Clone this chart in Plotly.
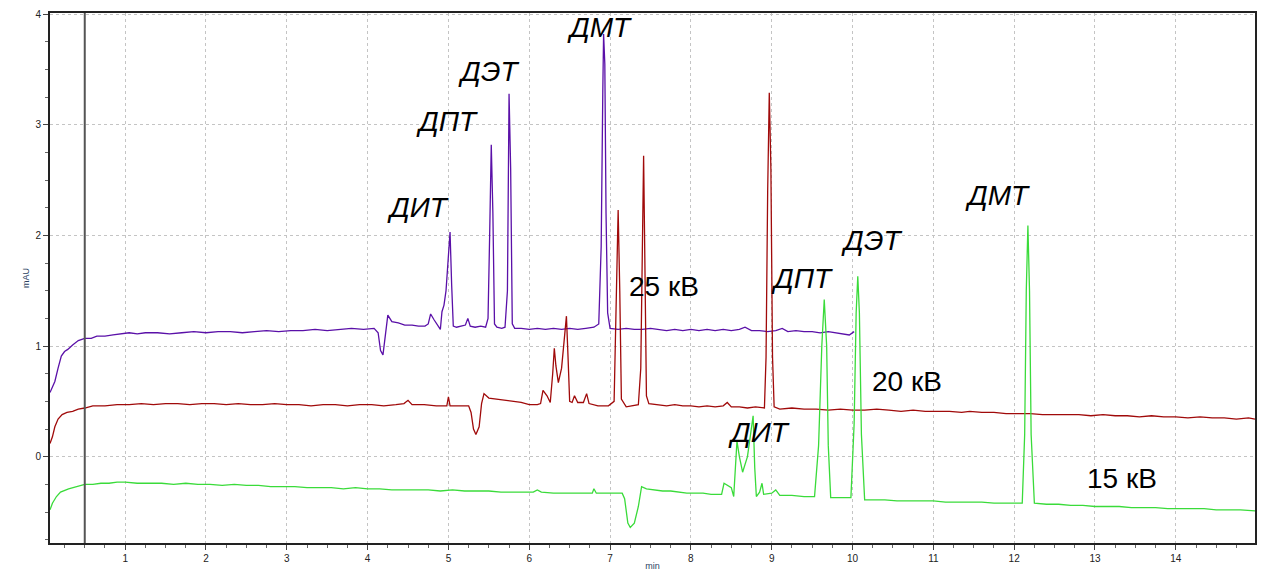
import plotly.graph_objects as go

# Electropherograms at three separation voltages: (time, min ; absorbance, mAU)
trace_25kv = [
    (0.07, 0.58), (0.10, 0.63), (0.13, 0.68), (0.17, 0.80), (0.21, 0.91), (0.25, 0.95),
    (0.29, 0.97), (0.35, 1.01), (0.42, 1.05), (0.50, 1.07), (0.58, 1.07), (0.65, 1.09),
    (0.75, 1.09), (0.85, 1.10), (0.95, 1.11), (1.05, 1.12), (1.15, 1.11), (1.25, 1.12),
    (1.40, 1.12), (1.55, 1.11), (1.70, 1.12), (1.85, 1.13), (2.00, 1.12), (2.15, 1.13),
    (2.30, 1.13), (2.45, 1.12), (2.60, 1.13), (2.75, 1.14), (2.90, 1.13), (3.05, 1.14),
    (3.20, 1.14), (3.35, 1.15), (3.50, 1.14), (3.65, 1.15), (3.80, 1.16), (3.95, 1.15),
    (4.08, 1.16), (4.13, 1.12), (4.16, 0.96), (4.19, 0.92), (4.22, 1.10), (4.25, 1.28),
    (4.30, 1.22), (4.38, 1.21), (4.46, 1.19), (4.55, 1.19), (4.63, 1.18), (4.71, 1.18),
    (4.75, 1.20), (4.78, 1.29), (4.82, 1.24), (4.86, 1.19), (4.90, 1.15), (4.92, 1.31),
    (4.945, 1.37), (4.97, 1.50), (4.995, 1.78), (5.02, 2.03), (5.04, 1.55), (5.06, 1.18),
    (5.10, 1.17), (5.16, 1.18), (5.21, 1.19), (5.24, 1.25), (5.27, 1.18), (5.33, 1.17),
    (5.40, 1.18), (5.46, 1.17), (5.49, 1.25), (5.51, 2.00), (5.53, 2.82), (5.55, 2.20),
    (5.57, 1.20), (5.60, 1.17), (5.66, 1.16), (5.70, 1.17), (5.73, 1.50), (5.75, 3.28),
    (5.77, 2.60), (5.79, 1.20), (5.82, 1.16), (5.90, 1.16), (6.00, 1.15), (6.10, 1.16),
    (6.20, 1.15), (6.30, 1.16), (6.40, 1.15), (6.50, 1.16), (6.60, 1.15), (6.70, 1.16),
    (6.80, 1.17), (6.86, 1.20), (6.89, 1.90), (6.91, 3.30), (6.92, 3.82), (6.935, 3.55),
    (6.95, 2.20), (6.97, 1.30), (7.00, 1.16), (7.10, 1.15), (7.20, 1.16), (7.30, 1.15),
    (7.40, 1.15), (7.50, 1.16), (7.60, 1.15), (7.70, 1.14), (7.80, 1.15), (7.90, 1.14),
    (8.00, 1.15), (8.10, 1.14), (8.20, 1.15), (8.30, 1.14), (8.40, 1.15), (8.50, 1.14),
    (8.60, 1.15), (8.67, 1.17), (8.75, 1.14), (8.85, 1.14), (8.95, 1.13), (9.05, 1.14),
    (9.13, 1.16), (9.20, 1.13), (9.30, 1.14), (9.40, 1.13), (9.50, 1.13), (9.60, 1.12),
    (9.70, 1.13), (9.80, 1.12), (9.90, 1.11), (9.96, 1.10), (10.02, 1.13),
]

trace_20kv = [
    (0.07, 0.12), (0.10, 0.18), (0.13, 0.27), (0.17, 0.34), (0.22, 0.38), (0.28, 0.40),
    (0.35, 0.41), (0.42, 0.43), (0.50, 0.44), (0.60, 0.46), (0.75, 0.46), (0.90, 0.47),
    (1.05, 0.47), (1.20, 0.48), (1.35, 0.47), (1.50, 0.48), (1.65, 0.48), (1.80, 0.47),
    (1.95, 0.48), (2.10, 0.48), (2.25, 0.47), (2.40, 0.48), (2.55, 0.47), (2.70, 0.47),
    (2.85, 0.48), (3.00, 0.47), (3.15, 0.47), (3.30, 0.46), (3.45, 0.47), (3.60, 0.47),
    (3.75, 0.46), (3.90, 0.47), (4.05, 0.47), (4.20, 0.46), (4.35, 0.47), (4.45, 0.48),
    (4.50, 0.51), (4.55, 0.47), (4.70, 0.47), (4.85, 0.46), (4.98, 0.46), (5.00, 0.54),
    (5.02, 0.46), (5.15, 0.46), (5.25, 0.46), (5.28, 0.40), (5.31, 0.25), (5.34, 0.20),
    (5.38, 0.27), (5.41, 0.48), (5.44, 0.57), (5.50, 0.53), (5.60, 0.52), (5.70, 0.51),
    (5.80, 0.50), (5.90, 0.49), (6.00, 0.47), (6.10, 0.47), (6.14, 0.48), (6.17, 0.60),
    (6.22, 0.55), (6.26, 0.49), (6.29, 0.75), (6.31, 0.98), (6.33, 0.82), (6.36, 0.67),
    (6.40, 0.80), (6.44, 1.12), (6.46, 1.27), (6.48, 0.90), (6.50, 0.50), (6.53, 0.49),
    (6.56, 0.55), (6.60, 0.49), (6.67, 0.49), (6.71, 0.57), (6.74, 0.48), (6.85, 0.46),
    (6.98, 0.46), (7.05, 0.50), (7.08, 1.40), (7.10, 2.23), (7.12, 1.50), (7.14, 0.52),
    (7.20, 0.45), (7.28, 0.46), (7.35, 0.47), (7.38, 0.80), (7.40, 2.00), (7.415, 2.72),
    (7.43, 1.80), (7.45, 0.55), (7.48, 0.48), (7.60, 0.47), (7.70, 0.46), (7.80, 0.47),
    (7.90, 0.46), (8.00, 0.46), (8.10, 0.45), (8.20, 0.46), (8.30, 0.45), (8.40, 0.46),
    (8.45, 0.49), (8.50, 0.45), (8.60, 0.45), (8.70, 0.44), (8.80, 0.45), (8.91, 0.44),
    (8.93, 0.90), (8.95, 2.40), (8.97, 3.29), (8.99, 2.60), (9.01, 0.90), (9.03, 0.45),
    (9.10, 0.43), (9.25, 0.44), (9.40, 0.43), (9.55, 0.43), (9.70, 0.42), (9.85, 0.43),
    (10.00, 0.42), (10.15, 0.42), (10.30, 0.43), (10.45, 0.42), (10.60, 0.41), (10.75, 0.42),
    (10.90, 0.41), (11.05, 0.41), (11.20, 0.41), (11.35, 0.40), (11.45, 0.41), (11.60, 0.40),
    (11.75, 0.40), (11.90, 0.39), (12.05, 0.39), (12.20, 0.39), (12.35, 0.38), (12.50, 0.38),
    (12.65, 0.38), (12.80, 0.38), (12.95, 0.37), (13.10, 0.38), (13.25, 0.37), (13.40, 0.37),
    (13.55, 0.36), (13.70, 0.37), (13.85, 0.36), (14.00, 0.36), (14.15, 0.35), (14.30, 0.36),
    (14.45, 0.35), (14.60, 0.35), (14.75, 0.34), (14.90, 0.35), (14.98, 0.34),
]

trace_15kv = [
    (0.07, -0.48), (0.10, -0.42), (0.15, -0.36), (0.20, -0.32), (0.30, -0.29), (0.40, -0.27),
    (0.50, -0.25), (0.60, -0.25), (0.70, -0.24), (0.80, -0.24), (0.90, -0.23), (1.00, -0.23),
    (1.15, -0.24), (1.30, -0.24), (1.45, -0.24), (1.60, -0.25), (1.75, -0.24), (1.90, -0.25),
    (2.05, -0.25), (2.20, -0.26), (2.35, -0.25), (2.50, -0.26), (2.65, -0.26), (2.80, -0.27),
    (2.95, -0.27), (3.10, -0.27), (3.25, -0.28), (3.40, -0.28), (3.55, -0.28), (3.70, -0.29),
    (3.85, -0.28), (4.00, -0.29), (4.15, -0.29), (4.30, -0.30), (4.45, -0.30), (4.60, -0.30),
    (4.75, -0.30), (4.90, -0.31), (5.05, -0.30), (5.20, -0.31), (5.35, -0.31), (5.50, -0.31),
    (5.65, -0.32), (5.80, -0.32), (5.95, -0.32), (6.05, -0.32), (6.10, -0.30), (6.15, -0.32),
    (6.30, -0.33), (6.45, -0.33), (6.60, -0.33), (6.72, -0.33), (6.78, -0.33), (6.80, -0.29),
    (6.83, -0.33), (6.95, -0.33), (7.05, -0.33), (7.15, -0.33), (7.18, -0.38), (7.22, -0.60),
    (7.25, -0.64), (7.30, -0.60), (7.35, -0.45), (7.39, -0.27), (7.45, -0.29), (7.55, -0.30),
    (7.65, -0.31), (7.75, -0.31), (7.85, -0.32), (7.95, -0.33), (8.05, -0.33), (8.15, -0.33),
    (8.25, -0.34), (8.38, -0.34), (8.41, -0.24), (8.50, -0.28), (8.53, -0.36), (8.55, -0.10),
    (8.57, 0.14), (8.60, 0.00), (8.64, -0.14), (8.70, 0.00), (8.75, 0.30), (8.77, 0.37),
    (8.79, -0.10), (8.81, -0.36), (8.85, -0.32), (8.88, -0.24), (8.90, -0.34), (9.00, -0.33),
    (9.05, -0.30), (9.10, -0.35), (9.25, -0.35), (9.40, -0.36), (9.53, -0.36), (9.58, 0.10),
    (9.62, 1.00), (9.65, 1.42), (9.68, 1.00), (9.70, 0.10), (9.73, -0.37), (9.80, -0.37),
    (9.90, -0.37), (9.98, -0.37), (10.02, 0.30), (10.045, 1.30), (10.065, 1.63), (10.085, 1.30),
    (10.11, 0.20), (10.15, -0.39), (10.25, -0.39), (10.40, -0.39), (10.55, -0.40), (10.70, -0.40),
    (10.85, -0.40), (11.00, -0.40), (11.15, -0.41), (11.30, -0.41), (11.45, -0.41), (11.60, -0.41),
    (11.75, -0.42), (11.90, -0.42), (12.05, -0.42), (12.10, -0.42), (12.13, 0.20), (12.15, 1.50),
    (12.17, 2.09), (12.19, 1.50), (12.21, 0.20), (12.25, -0.42), (12.40, -0.43), (12.55, -0.43),
    (12.70, -0.44), (12.85, -0.44), (13.00, -0.45), (13.15, -0.45), (13.30, -0.45), (13.45, -0.46),
    (13.60, -0.46), (13.75, -0.46), (13.90, -0.47), (14.05, -0.47), (14.20, -0.47), (14.35, -0.47),
    (14.50, -0.48), (14.65, -0.48), (14.80, -0.48), (14.98, -0.49),
]

series = [
    ("25 кВ", trace_25kv, "#5A10A8"),
    ("20 кВ", trace_20kv, "#A00A0A"),
    ("15 кВ", trace_15kv, "#3ADB3A"),
]

# Peak labels and voltage captions: (text, time, mAU, italic)
labels = [
    ("ДИТ", 4.62, 2.25, True),
    ("ДПТ", 4.98, 3.03, True),
    ("ДЭТ", 5.49, 3.48, True),
    ("ДМТ", 6.87, 3.88, True),
    ("25 кВ", 7.67, 1.54, False),
    ("ДПТ", 9.37, 1.61, True),
    ("ДЭТ", 10.24, 1.95, True),
    ("ДМТ", 11.79, 2.36, True),
    ("20 кВ", 10.67, 0.68, False),
    ("ДИТ", 8.84, 0.22, True),
    ("15 кВ", 13.34, -0.20, False),
]

x_ticks = list(range(1, 15))
y_ticks = [0, 1, 2, 3, 4]

FONT = "Liberation Sans, Arial"

fig = go.Figure()
for name, pts, color in series:
    t, a = zip(*pts)
    fig.add_trace(go.Scatter(x=t, y=a, mode="lines", name=name,
                             line=dict(color=color, width=1.3), showlegend=False))

for text, t, a, italic in labels:
    fig.add_annotation(x=t, y=a, xref="x", yref="y", text=f"<i>{text}</i>" if italic else text,
                       showarrow=False, font=dict(family=FONT, size=28, color="black"))

# marker line at 0.5 min
fig.add_shape(type="line", xref="x", yref="paper", x0=0.5, x1=0.5, y0=0, y1=1,
              line=dict(color="#555555", width=2))

axis_common = dict(
    automargin=False,
    showgrid=True, gridcolor="#c4c4c4", griddash="dot", gridwidth=1,
    zeroline=False, showline=True, linecolor="#222222", linewidth=2, mirror=True,
    ticks="outside", ticklen=5, tickcolor="#444444",
    tickfont=dict(family=FONT, size=10, color="#222222"),
    minor=dict(ticks="outside", ticklen=3, tickcolor="#666666", dtick=0.25, showgrid=False),
)

fig.update_layout(
    width=1263, height=571,
    margin=dict(l=50, r=8, t=13, b=28),
    paper_bgcolor="white", plot_bgcolor="white",
    xaxis=dict(range=[0.07, 14.98], tickvals=x_ticks,
               title=dict(text="min", font=dict(family=FONT, size=9), standoff=1),
               **axis_common),
    yaxis=dict(range=[-0.78, 4.01], tickvals=y_ticks,
               title=dict(text="mAU", font=dict(family=FONT, size=9), standoff=4),
               **axis_common),
)

fig.write_html("out.html")
